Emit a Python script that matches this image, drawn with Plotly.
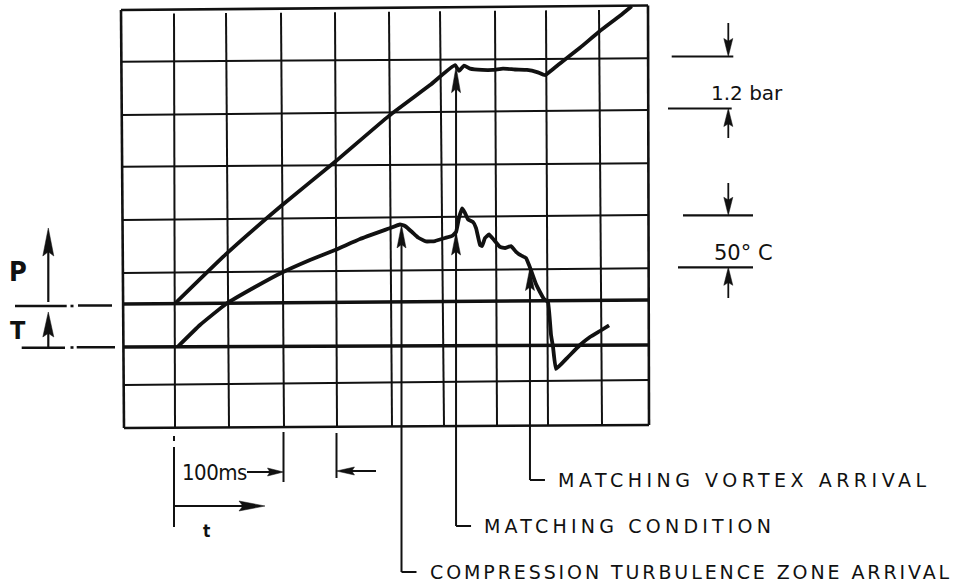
import numpy as np
import plotly.graph_objects as go

W, H = 955, 585
INK = "#111111"
FONT = "DejaVu Sans"
NARROW = "Liberation Sans Narrow, DejaVu Sans Condensed, Liberation Sans, sans-serif"

# ---- recorded traces (time after trigger, ms) ----
time_p_ms = [0.0, 48.4, 100.7, 152.0, 203.2, 242.2, 265.9, 269.7, 274.5, 280.2,
             291.6, 302.0, 311.5, 322.9, 334.3, 343.8, 351.4, 358.0, 365.6, 384.6,
             402.7, 422.6, 433.7]
pressure_bar = [0.00, 1.14, 2.25, 3.27, 4.33, 5.04, 5.50, 5.37, 5.49, 5.42,
                5.39, 5.39, 5.42, 5.40, 5.39, 5.34, 5.27, 5.39, 5.54, 5.90,
                6.27, 6.64, 6.86]

time_t_ms = [2.8, 23.7, 48.4, 76.0, 100.7, 128.2, 152.0, 175.7, 203.2, 213.7,
             218.4, 225.1, 230.8, 238.4, 246.9, 256.4, 263.1, 266.9, 269.7, 272.6,
             275.4, 278.3, 283.0, 285.9, 289.7, 291.6, 294.4, 298.2, 303.0, 308.7,
             313.4, 319.1, 323.9, 327.7, 333.3, 336.2, 339.0, 342.8, 346.6, 350.4,
             354.2, 357.1, 359.0, 361.8, 372.3, 384.6, 394.1, 403.6, 412.2]
temp_rise_c = [0.0, 20.7, 40.9, 57.2, 70.7, 83.2, 92.8, 103.4, 113.5, 117.3,
               115.9, 110.1, 104.8, 101.0, 101.4, 104.3, 106.3, 110.1, 123.6, 132.7,
               128.4, 122.1, 119.7, 113.9, 97.6, 96.6, 104.3, 107.7, 102.4, 95.7,
               94.7, 96.6, 90.9, 88.0, 85.1, 78.4, 70.7, 60.1, 52.4, 45.7,
               42.8, 11.1, -0.5, -21.6, -11.1, 1.4, 9.1, 14.9, 20.2]

# event markers and their arrival times
event_labels = ["COMPRESSION TURBULENCE ZONE ARRIVAL", "MATCHING CONDITION",
                "MATCHING VORTEX ARRIVAL"]
event_times_ms = [215.1, 266.9, 337.1]

# scale references
P_DIV_BAR = 1.2
T_DIV_C = 50

# ---- screen geometry of the oscillogram ----
X0_PX = 175.0                 # trigger (t = 0) column
PX_PER_MS = 52.65 / 50.0
P_BASE_PX = 303.5             # pressure zero line
PX_PER_BAR = 52.0 / P_DIV_BAR
T_BASE_PX = 346.5             # temperature zero line
PX_PER_C = 52.0 / T_DIV_C

x_range = [(0 - X0_PX) / PX_PER_MS, (W - X0_PX) / PX_PER_MS]
y_range = [(P_BASE_PX - H) / PX_PER_BAR, P_BASE_PX / PX_PER_BAR]
y2_range = [(T_BASE_PX - H) / PX_PER_C, T_BASE_PX / PX_PER_C]


def ms_px(t):
    return X0_PX + t * PX_PER_MS


def bar_px(p):
    return P_BASE_PX - p * PX_PER_BAR


def c_px(t):
    return T_BASE_PX - t * PX_PER_C


def X(px):
    return px / W


def Y(py):
    return 1 - py / H


shapes = []
annotations = []


def seg(x0, y0, x1, y1, w=2.0):
    shapes.append(dict(type="line", xref="paper", yref="paper",
                       x0=X(x0), y0=Y(y0), x1=X(x1), y1=Y(y1),
                       line=dict(color=INK, width=w), layer="above"))


def head(tx, ty, d, length=22, hw=4.5):
    if d == "up":
        pts = [(tx, ty), (tx - hw, ty + length), (tx, ty + length * 0.85), (tx + hw, ty + length)]
    elif d == "down":
        pts = [(tx, ty), (tx - hw, ty - length), (tx, ty - length * 0.85), (tx + hw, ty - length)]
    elif d == "right":
        pts = [(tx, ty), (tx - length, ty - hw), (tx - length * 0.85, ty), (tx - length, ty + hw)]
    else:
        pts = [(tx, ty), (tx + length, ty - hw), (tx + length * 0.85, ty), (tx + length, ty + hw)]
    path = "M " + " L ".join(f"{X(a):.5f},{Y(b):.5f}" for a, b in pts) + " Z"
    shapes.append(dict(type="path", xref="paper", yref="paper", path=path,
                       fillcolor=INK, line=dict(color=INK, width=0.5), layer="above"))


def label(text, x, y, size, xanchor="left", family=FONT, spacing=None):
    if spacing:
        text = f"<span style='letter-spacing:{spacing}px'>{text}</span>"
    annotations.append(dict(text=text, x=X(x), y=Y(y), xref="paper", yref="paper",
                            xanchor=xanchor, yanchor="middle", showarrow=False,
                            font=dict(family=family, size=size, color=INK)))


# ---- graticule (hand-ruled, slightly skewed) ----
TL, TR, BL, BR = (121, 10), (648, 5.5), (124, 428), (649, 425)


def top_y(x):
    return TL[1] + (x - TL[0]) / (TR[0] - TL[0]) * (TR[1] - TL[1])


def bot_y(x):
    return BL[1] + (x - BL[0]) / (BR[0] - BL[0]) * (BR[1] - BL[1])


def left_x(y):
    return TL[0] + (y - TL[1]) / (BL[1] - TL[1]) * (BL[0] - TL[0])


def right_x(y):
    return TR[0] + (y - TR[1]) / (BR[1] - TR[1]) * (BR[0] - TR[0])


grid_v_top = [174, 226, 281, 335, 389, 440, 495, 546, 599]
grid_v_bot = [175, 229, 284, 337, 392, 444, 497, 548, 602]
for xt, xb in zip(grid_v_top, grid_v_bot):
    seg(xt, top_y(xt) + 4, xb, bot_y(xb), 2.0)

grid_h_left = [61.7, 115, 166.7, 220, 273, 304, 347, 385]
grid_h_right = [58.3, 110, 163.3, 215, 268.3, 300, 345, 380]
for yl, yr in zip(grid_h_left, grid_h_right):
    w = 3.6 if yl in (304, 347) else 2.0
    seg(left_x(yl), yl, right_x(yr), yr, w)

# frame
seg(*TL, *TR, 2.6)
seg(*BL, *BR, 2.6)
seg(*TL, *BL, 2.6)
seg(*TR, *BR, 2.6)

# zero-line extensions and P / T axis arrows on the left
seg(15, 306, 66.7, 306, 2.6)
seg(70.5, 306, 73.5, 306, 2.6)
seg(78, 305.5, 112, 305.5, 2.6)
seg(21.7, 347.7, 65, 347.7, 2.6)
seg(70.5, 347.5, 73.5, 347.5, 2.6)
seg(76.7, 347.3, 115, 347.3, 2.6)
seg(48.3, 302, 48.3, 240, 2.2)
head(48.3, 228, "up", 28, 5.5)
seg(48.3, 347.7, 48.3, 325, 2.2)
head(48.3, 312, "up", 25, 5.5)
label("<b>P</b>", 18, 271, 27, "center", NARROW)
label("<b>T</b>", 18, 330, 25, "center", NARROW)

# ---- scale brackets on the right ----
p_bot = 108.5
p_top = p_bot - P_DIV_BAR * PX_PER_BAR
seg(671.7, p_top, 733.3, p_top, 2.2)
seg(728.3, 23, 728.3, p_top - 10, 1.8)
head(728.3, p_top, "down", 18, 4.5)
seg(668, p_bot, 731.7, p_bot, 2.2)
seg(728.3, 138, 728.3, p_bot + 10, 1.8)
head(728.3, p_bot, "up", 18, 4.5)
label(f"{P_DIV_BAR:g} bar", 709, 93, 20)

t_bot = 267.3
t_top = t_bot - T_DIV_C * PX_PER_C
seg(683, t_top, 753, t_top, 2.2)
seg(728.3, 183, 728.3, t_top - 10, 1.8)
head(728.3, t_top, "down", 18, 4.5)
seg(678, t_bot, 753, t_bot, 2.2)
seg(728.3, 298, 728.3, t_bot + 10, 1.8)
head(728.3, t_bot, "up", 18, 4.5)
label(f"{T_DIV_C}° C", 712, 253, 21)

# ---- time base marks under the screen ----
seg(174, 436, 174, 441, 2.0)
seg(174, 447, 174, 527, 2.0)
label("100ms", 214, 472, 22, "center", NARROW, spacing=-0.5)
seg(247, 472, 270, 472, 2.0)
head(283.5, 472, "right", 16, 4.0)
seg(283.5, 432, 283.5, 482, 2.0)
seg(336.5, 433, 336.5, 478, 2.0)
seg(376, 471, 350, 471, 2.0)
head(336.5, 471, "left", 18, 4.0)
seg(174, 506, 245, 506, 2.2)
head(265, 506, "right", 26, 5.0)
label("<b>t</b>", 206, 531, 17, "center", NARROW)

# ---- event markers with leaders to their captions ----
label_rows = {"MATCHING VORTEX ARRIVAL": 480, "MATCHING CONDITION": 526,
              "COMPRESSION TURBULENCE ZONE ARRIVAL": 572}
label_tracking = {"MATCHING VORTEX ARRIVAL": 4.5, "MATCHING CONDITION": 4.2,
                  "COMPRESSION TURBULENCE ZONE ARRIVAL": 2.9}
for name, t in zip(event_labels, event_times_ms):
    xs = ms_px(t)
    tip_t = c_px(np.interp(t, time_t_ms, temp_rise_c))
    row = label_rows[name]
    if name == "MATCHING CONDITION":
        tip_top = bar_px(np.interp(t, time_p_ms, pressure_bar))
        head(xs, tip_top, "up", 26, 4.5)
    else:
        tip_top = tip_t
    head(xs, tip_t, "up", 23, 4.5)
    seg(xs, tip_top + 15, xs, row, 2.0)
    seg(xs, row, xs + 15, row, 2.0)
    label(name, xs + 26, row, 19, spacing=label_tracking[name])

# ---- traces ----
fig = go.Figure()
fig.add_trace(go.Scatter(x=time_p_ms, y=pressure_bar, mode="lines",
                         line=dict(color=INK, width=3.8, shape="spline", smoothing=0.4),
                         name="p", hoverinfo="skip"))
fig.add_trace(go.Scatter(x=time_t_ms, y=temp_rise_c, mode="lines", yaxis="y2",
                         line=dict(color=INK, width=3.8, shape="spline", smoothing=0.3),
                         name="T", hoverinfo="skip"))

fig.update_layout(
    width=W, height=H, autosize=False,
    margin=dict(l=0, r=0, t=0, b=0, pad=0),
    paper_bgcolor="white", plot_bgcolor="white",
    showlegend=False,
    xaxis=dict(range=x_range, visible=False, fixedrange=True),
    yaxis=dict(range=y_range, visible=False, fixedrange=True),
    yaxis2=dict(range=y2_range, visible=False, overlaying="y", fixedrange=True),
    shapes=shapes,
    annotations=annotations,
)

fig.write_html("out.html")
